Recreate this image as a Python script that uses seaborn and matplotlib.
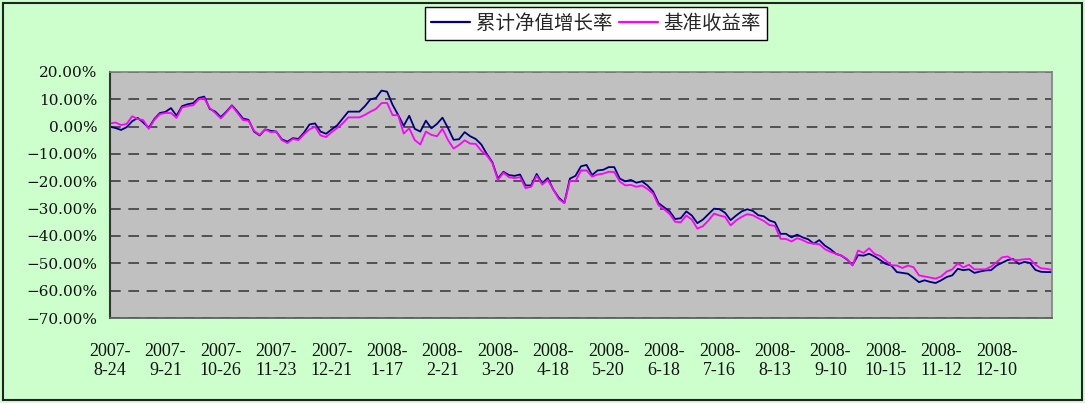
import numpy as np
import pandas as pd
import matplotlib
matplotlib.use('Agg')
import matplotlib.pyplot as plt
import seaborn as sns
from matplotlib.patches import Rectangle
from matplotlib.lines import Line2D

# 横轴标签（每10个点一个）
tick_labels = ['2007-\n8-24', '2007-\n9-21', '2007-\n10-26', '2007-\n11-23', '2007-\n12-21',
               '2008-\n1-17', '2008-\n2-21', '2008-\n3-20', '2008-\n4-18', '2008-\n5-20',
               '2008-\n6-18', '2008-\n7-16', '2008-\n8-13', '2008-\n9-10', '2008-\n10-15',
               '2008-\n11-12', '2008-\n12-10']
y_ticks = [20, 10, 0, -10, -20, -30, -40, -50, -60, -70]

# 累计净值增长率 (%)
nav = [0.0, -0.5, -1.2, -0.2, 2.0, 3.2, 1.5, -0.4, 2.8, 5.0,
       5.4, 6.8, 4.0, 7.5, 8.2, 8.6, 10.5, 11.0, 6.5, 5.5,
       3.5, 5.5, 7.8, 5.5, 3.0, 2.5, -1.8, -3.2, -1.0, -1.5,
       -1.8, -4.6, -5.5, -4.2, -4.5, -2.2, 0.8, 1.2, -1.8, -2.6,
       -1.0, 0.5, 3.0, 5.5, 5.5, 5.5, 7.5, 10.0, 10.5, 13.2,
       12.8, 8.0, 4.3, 0.3, 4.0, -0.8, -1.8, 2.2, -0.6, 1.0,
       3.3, -0.5, -4.8, -4.6, -2.0, -3.5, -4.5, -6.5, -10.0, -13.0,
       -19.0, -16.5, -17.7, -18.0, -17.5, -21.5, -21.5, -17.3, -20.7, -18.8,
       -23.0, -26.0, -27.8, -19.0, -18.0, -14.5, -14.0, -17.7, -16.0, -15.8,
       -14.8, -14.8, -19.0, -20.0, -19.5, -20.5, -20.0, -21.5, -23.7, -28.0,
       -29.5, -31.0, -33.8, -33.5, -31.0, -32.5, -35.3, -34.0, -32.0, -30.0,
       -30.2, -31.5, -34.2, -32.5, -31.0, -30.2, -30.8, -32.4, -32.8, -34.3,
       -35.0, -39.2, -39.2, -40.5, -39.5, -40.5, -41.2, -42.8, -41.5, -43.5,
       -44.8, -46.5, -47.2, -48.6, -50.6, -47.0, -47.2, -46.5, -47.5, -48.8,
       -50.2, -50.8, -53.2, -53.5, -53.8, -55.3, -56.9, -56.2, -56.8, -57.2,
       -56.2, -55.0, -54.4, -52.0, -52.5, -52.2, -53.5, -53.0, -52.6, -52.5,
       -50.8, -49.8, -48.8, -48.4, -50.2, -49.5, -49.8, -52.4, -53.1, -53.2,
       -53.2]

# 基准收益率 (%)
bench = [1.2, 1.5, 0.6, 1.0, 3.8, 2.8, 2.4, -0.8, 2.5, 4.6,
         5.0, 5.0, 3.2, 7.0, 7.6, 7.8, 10.0, 10.4, 6.8, 5.0,
         3.0, 5.2, 7.6, 5.0, 2.4, 2.2, -1.5, -3.0, -1.0, -2.0,
         -1.8, -4.9, -6.0, -4.5, -4.9, -2.8, -1.0, 0.0, -3.2, -3.8,
         -2.0, -0.5, 1.2, 3.4, 3.4, 3.4, 4.3, 5.5, 6.5, 8.6,
         8.7, 4.2, 4.2, -2.5, -0.6, -4.9, -6.5, -1.8, -3.0, -3.5,
         -0.8, -4.9, -8.0, -6.7, -5.0, -6.2, -6.3, -8.8, -10.5, -13.3,
         -19.5, -16.8, -18.5, -18.8, -18.5, -22.5, -22.0, -18.0, -21.2, -19.5,
         -23.0, -26.5, -28.0, -19.8, -20.0, -16.0, -16.0, -18.3, -17.5, -17.2,
         -16.5, -16.6, -20.1, -21.5, -21.3, -22.0, -21.5, -22.8, -24.5, -28.8,
         -30.2, -32.0, -34.8, -35.0, -32.5, -34.0, -37.3, -36.4, -34.3, -31.8,
         -32.5, -33.0, -36.1, -34.3, -33.0, -32.0, -32.4, -33.5, -34.5, -36.0,
         -36.3, -41.0, -41.1, -42.0, -40.8, -41.5, -42.5, -42.8, -43.0, -44.8,
         -45.8, -46.5, -47.2, -48.4, -50.8, -45.3, -46.2, -44.5, -46.6, -47.3,
         -49.0, -50.7, -50.8, -51.7, -50.8, -51.4, -54.4, -54.8, -55.2, -55.6,
         -54.8, -53.0, -52.2, -50.0, -51.5, -50.5, -52.2, -52.2, -52.2, -51.2,
         -49.6, -47.8, -47.5, -48.8, -48.8, -48.5, -48.4, -50.5, -51.8, -52.0,
         -52.4]

names = ['累计净值增长率', '基准收益率']
colors = {'累计净值增长率': '#000080', '基准收益率': '#FF00FF'}

sns.set_style('white')
plt.rcParams['font.family'] = ['Noto Sans CJK SC', 'DejaVu Sans']

df = pd.DataFrame({'idx': np.arange(len(nav)), names[0]: nav, names[1]: bench})
d2 = df.melt(id_vars='idx', var_name='series', value_name='rate')

fig = plt.figure(figsize=(10.85, 4.03), dpi=100)
fig.patch.set_facecolor('#CCFFCC')
# 外框
fig.add_artist(Rectangle((3 / 1085, 3 / 403), 1079 / 1085, 397 / 403, transform=fig.transFigure,
                         fill=False, edgecolor='#222222', linewidth=1.5))

ax = fig.add_axes([110 / 1085, 1 - 318 / 403, 942 / 1085, 246 / 403])
ax.set_facecolor('#C0C0C0')
ax.set_axisbelow(True)
ax.yaxis.grid(True, linestyle=(0, (7, 5)), color='#333333', linewidth=1.1)
ax.xaxis.grid(False)

sns.lineplot(data=d2, x='idx', y='rate', hue='series', hue_order=names, palette=colors,
             linewidth=1.3, ax=ax, legend=False)

ax.set_xlim(0, len(nav) - 1)
ax.set_ylim(-70, 20)
ax.set_xticks(np.arange(0, len(tick_labels) * 10, 10))
ax.set_xticklabels(tick_labels, fontfamily='Liberation Serif', fontsize=13, linespacing=1.15)
ax.set_yticks(y_ticks)
ax.set_yticklabels([f'{v:.2f}%'.replace('-', '\u2212') for v in y_ticks],
                   fontfamily='DejaVu Serif', fontsize=11)
ax.tick_params(axis='x', length=0, pad=18, colors='#111111')
ax.tick_params(axis='y', length=0, pad=9, colors='#111111')
ax.set_xlabel('')
ax.set_ylabel('')

for s in ['top', 'right']:
    ax.spines[s].set_color('#808080')
    ax.spines[s].set_linewidth(1.2)
ax.spines['left'].set_color('#333333')
ax.spines['left'].set_linewidth(1.5)
ax.spines['bottom'].set_color('#606060')
ax.spines['bottom'].set_linewidth(1.3)

handles = [Line2D([], [], color=colors[n], linewidth=1.6) for n in names]
leg = fig.legend(handles, names, loc='upper center', bbox_to_anchor=(596 / 1085, 1 - 7 / 403),
                 ncol=2, frameon=True, fancybox=False, framealpha=1, edgecolor='black',
                 fontsize=14, handlelength=2.0, handletextpad=0.3, columnspacing=0.35,
                 borderpad=0.3, borderaxespad=0)
leg.get_frame().set_linewidth(1.0)

plt.savefig('out.png', dpi=100, facecolor=fig.get_facecolor())
